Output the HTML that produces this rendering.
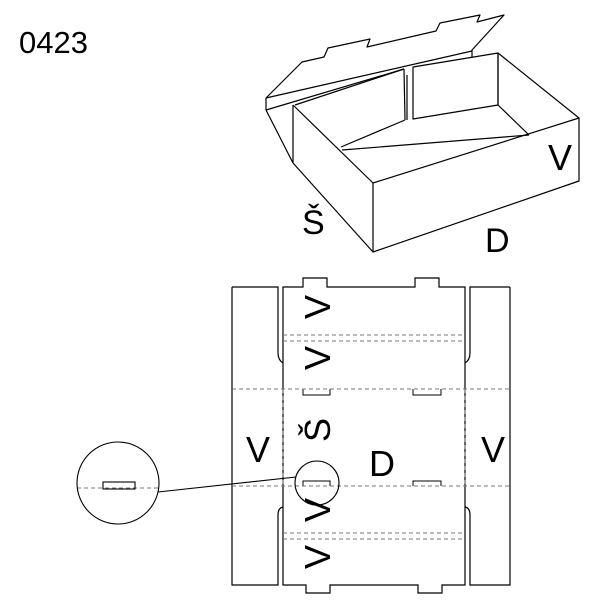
<!DOCTYPE html>
<html><head><style>body{margin:0;background:#fff}svg{display:block}</style></head><body>
<svg width="600" height="600" viewBox="0 0 600 600" xmlns="http://www.w3.org/2000/svg" font-family="Liberation Sans, sans-serif">
<rect width="600" height="600" fill="#fff"/>
<text x="19" y="53" font-size="31">0423</text>
<g fill="none" stroke="#000" stroke-width="1.2" stroke-linejoin="round">
<polyline points="266,98 302,62 324,57 328,48 370,39 367,47 436,31 440,23 480,15 477,22 504,15 472,50 472,51"/>
<line x1="266" y1="98" x2="472" y2="51"/>
<line x1="266" y1="98" x2="266" y2="110"/>
<line x1="266" y1="110" x2="404" y2="69"/>
<line x1="472" y1="51" x2="472" y2="57"/>
<line x1="266" y1="110" x2="293" y2="163"/>
<line x1="293" y1="105" x2="293" y2="163"/>
<line x1="293" y1="163" x2="373" y2="252"/>
<line x1="293" y1="105" x2="373" y2="183"/>
<polygon points="373,183 579,118 579,181 373,252"/>
<line x1="498" y1="53" x2="579" y2="118"/>
<line x1="498" y1="53" x2="498" y2="105"/>
<polygon points="413,67 498,53 498,105 413,119"/>
<line x1="498" y1="105" x2="529" y2="135"/>
<line x1="342" y1="150" x2="529" y2="135"/>
<line x1="404" y1="69" x2="405" y2="120"/>
<line x1="407" y1="75" x2="407" y2="120"/>
<line x1="405" y1="120" x2="341" y2="147"/>
<line x1="404" y1="69" x2="295" y2="105"/>
</g>
<text x="548" y="170" font-size="36">V</text>
<text x="302" y="234" font-size="34">Š</text>
<text x="485" y="252" font-size="34">D</text>

<g fill="none" stroke="#000" stroke-width="1.2">
<path d="M232,287 H278 V353 Q278,360 283,363"/>
<path d="M232,287 V585 H278 V515 Q278,508 283,507"/>
<path d="M510,287 H470 V353 Q470,360 465,363"/>
<path d="M510,287 V585 H470 V515 Q470,508 465,507"/>
<path d="M283,287 H303 V278 H327 V287 H415 V278 H439 V287 H465 V585 H442 V593 H418 V585 H330 V593 H306 V585 H283 Z"/>
<path d="M303,389 V395 H330 V389 M413,389 V395 H441 V389 M303,486 V481 H330 V486 M413,486 V481 H441 V486" stroke-width="1"/>
</g>
<g stroke="#777" stroke-width="1" stroke-dasharray="4,3" fill="none">
<line x1="283" y1="335" x2="465" y2="335"/>
<line x1="283" y1="341" x2="465" y2="341"/>
<line x1="232" y1="389" x2="510" y2="389"/>
<line x1="232" y1="486" x2="510" y2="486"/>
<line x1="283" y1="533" x2="465" y2="533"/>
<line x1="283" y1="539" x2="465" y2="539"/>
<line x1="283" y1="389" x2="283" y2="486"/>
<line x1="465" y1="389" x2="465" y2="486"/>
<line x1="77" y1="488" x2="159" y2="488"/>
</g>
<g font-size="36">
<text transform="translate(330,307) rotate(-90)" text-anchor="middle">V</text>
<text transform="translate(330,358) rotate(-90)" text-anchor="middle">V</text>
<text transform="translate(330,510) rotate(-90)" text-anchor="middle">V</text>
<text transform="translate(330,557) rotate(-90)" text-anchor="middle">V</text>
<text transform="translate(330,430) rotate(-90)" text-anchor="middle">Š</text>
<text x="258" y="462" text-anchor="middle">V</text>
<text x="493" y="462" text-anchor="middle">V</text>
<text x="382" y="476" text-anchor="middle">D</text>
</g>
<g fill="none" stroke="#000" stroke-width="1.1">
<circle cx="317" cy="483" r="22"/>
<circle cx="118" cy="483" r="41"/>
<line x1="296" y1="477" x2="158" y2="492"/>
<rect x="103" y="482" width="32" height="7"/>
</g>
</svg>
</body></html>
